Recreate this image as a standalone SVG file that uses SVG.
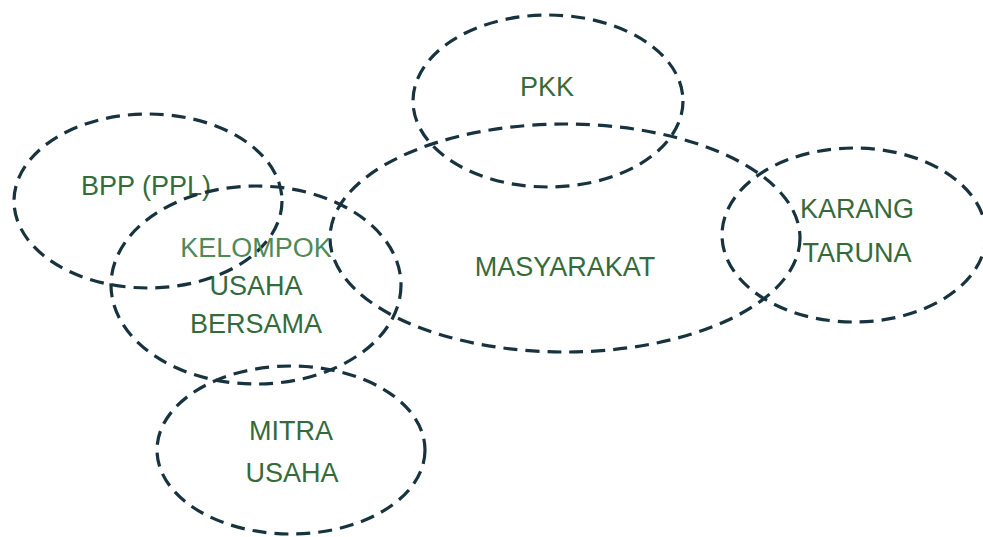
<svg xmlns="http://www.w3.org/2000/svg" width="983" height="537" viewBox="0 0 983 537">
<style>
.e{fill:none;stroke:#17333f;stroke-width:3.2;stroke-dasharray:14 8;stroke-linecap:butt}
.t{font-family:"Liberation Sans",Arial,sans-serif;font-size:27px;fill:#356b3a;text-anchor:middle}
.l{fill:#4f8a56}
</style>
<rect width="983" height="537" fill="#ffffff"/>
<g id="pkk"><ellipse class="e" cx="548" cy="101" rx="135" ry="86"/><text class="t" x="547" y="96">PKK</text></g>
<g id="masyarakat"><ellipse class="e" cx="565" cy="238" rx="235" ry="114"/><text class="t" x="565" y="276">MASYARAKAT</text></g>
<g id="bpp"><ellipse class="e" cx="148" cy="201" rx="134" ry="87"/><text class="t" x="146" y="195">BPP (PPL)</text></g>
<g id="kelompok"><ellipse class="e" cx="256" cy="285" rx="145" ry="99"/><text class="t l" x="256" y="257">KELOMPOK</text><text class="t" x="256" y="295">USAHA</text><text class="t" x="256" y="333">BERSAMA</text></g>
<g id="karang"><ellipse class="e" cx="854" cy="235" rx="132" ry="87"/><text class="t" x="857" y="218">KARANG</text><text class="t" x="857" y="262">TARUNA</text></g>
<g id="mitra"><ellipse class="e" cx="291" cy="450" rx="134" ry="84"/><text class="t" x="291" y="440">MITRA</text><text class="t" x="292" y="482">USAHA</text></g>
<g id="connectors"></g>
</svg>
